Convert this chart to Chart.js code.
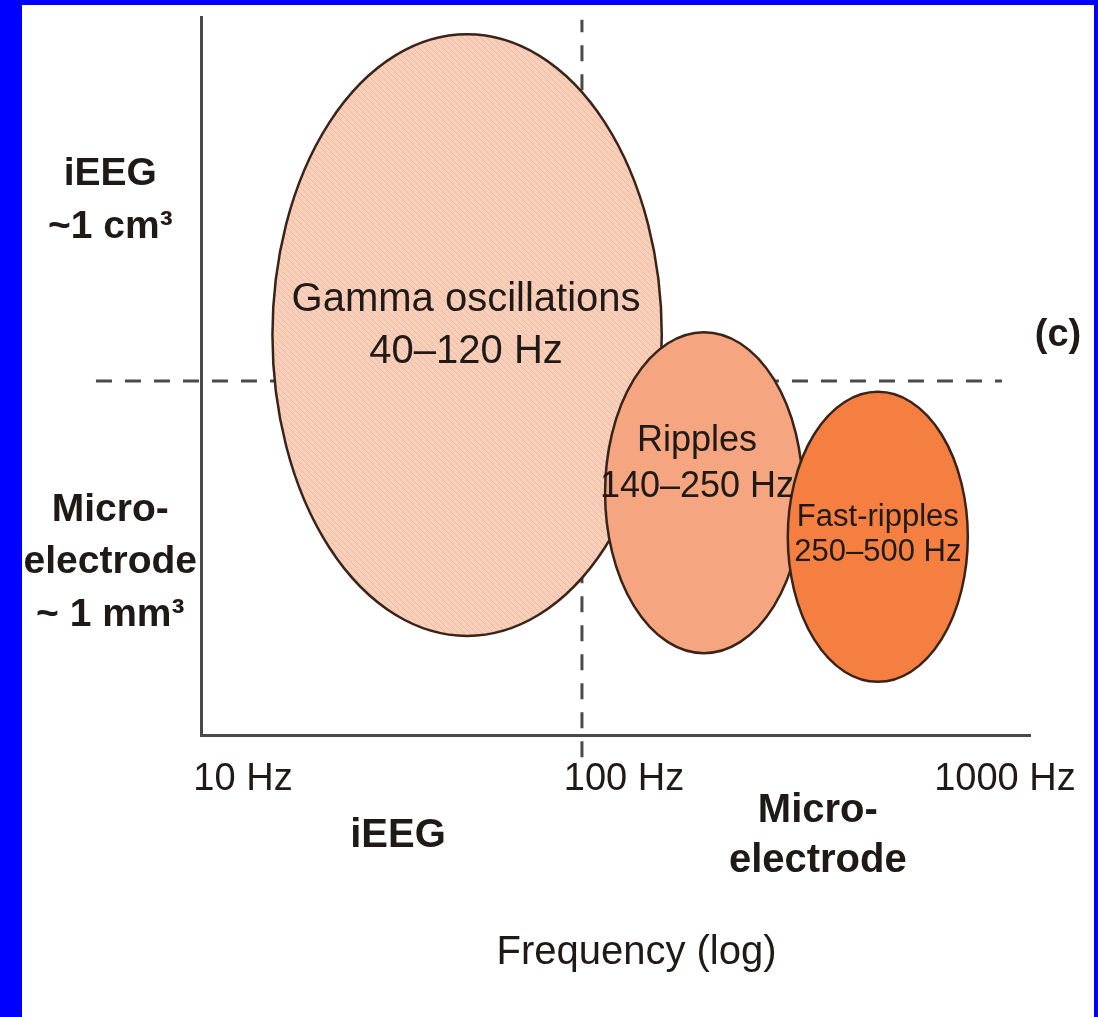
<!DOCTYPE html>
<html lang="en">
<head>
    <meta charset="UTF-8">
    <title>HFO bands</title>
    <style>
        body { margin: 0; background: #0000fe; width: 1098px; height: 1017px; overflow: hidden; }
        #wrap { position: absolute; left: 22px; top: 5px; width: 1072px; height: 1012px; background: #fff; }
    </style>
</head>
<body>
    <div id="wrap">
        <canvas id="myChart" width="1072" height="1012"></canvas>
    </div>

    <script src="https://cdn.jsdelivr.net/npm/chart.js"></script>

<script>
    // bands (frequency in Hz on a log axis, vertical extent on a 0-100 "spatial scale")
    const bandNames = ['Gamma oscillations', 'Ripples', 'Fast-ripples'];
    const bandRanges = ['40–120 Hz', '140–250 Hz', '250–500 Hz'];
    const bandFreqLow = [15.4, 115, 347];
    const bandFreqHigh = [162, 380, 1030];
    const bandScaleLow = [13.8, 11.4, 7.4];
    const bandScaleHigh = [97.6, 56.1, 47.8];

    const freqTicks = [10, 100, 1000];
    const spatialLevels = [74.4, 24];
    const spatialLabels = [['iEEG', '~1 cm³'], ['Micro-', 'electrode', '~ 1 mm³']];
    const freqGroupAt = [32.9, 416];
    const freqGroupLabels = [['iEEG'], ['Micro-', 'electrode']];

    const boundaryFreq = 100;
    const boundaryScale = 49.3;
    const hLineFreq = [5.3, 1266];
    const vLineScale = [-3.1, 99.6];

    // styles
    const bandFill = ['#f9cfb9', '#f5a57f', '#f47f40'];
    const bandFont = [40, 36, 31];
    const bandLineGap = [52, 46, 35];
    const bandTextShift = [[-1, -9], [-7, -29], [0, -2]];
    const ink = '#1f1a18';

    Chart.defaults.font.family = '"Liberation Sans", Arial, Helvetica, sans-serif';
    Chart.defaults.color = ink;

    const ctx = document.getElementById('myChart').getContext('2d');

    const bandsPlugin = {
        id: 'bands',
        afterDatasetsDraw(chart) {
            const c = chart.ctx;
            const x = chart.scales.x, y = chart.scales.y;
            c.save();

            // faint hatching used on the big ellipse
            const tile = document.createElement('canvas');
            tile.width = 6; tile.height = 6;
            const t = tile.getContext('2d');
            t.fillStyle = bandFill[0];
            t.fillRect(0, 0, 6, 6);
            t.strokeStyle = 'rgba(200,150,130,0.35)';
            t.lineWidth = 1;
            t.beginPath(); t.moveTo(0, 0); t.lineTo(6, 6); t.stroke();
            const hatch = c.createPattern(tile, 'repeat');

            for (let i = 0; i < bandNames.length; i++) {
                const x0 = x.getPixelForValue(bandFreqLow[i]);
                const x1 = x.getPixelForValue(bandFreqHigh[i]);
                const y0 = y.getPixelForValue(bandScaleHigh[i]);
                const y1 = y.getPixelForValue(bandScaleLow[i]);
                c.beginPath();
                c.ellipse((x0 + x1) / 2, (y0 + y1) / 2, (x1 - x0) / 2, (y1 - y0) / 2, 0, 0, Math.PI * 2);
                c.fillStyle = i === 0 ? hatch : bandFill[i];
                c.fill();
                c.lineWidth = 2.5;
                c.strokeStyle = '#3a2419';
                c.stroke();
            }

            c.fillStyle = ink;
            c.textAlign = 'center';
            c.textBaseline = 'middle';
            for (let i = 0; i < bandNames.length; i++) {
                const cx = (x.getPixelForValue(bandFreqLow[i]) + x.getPixelForValue(bandFreqHigh[i])) / 2;
                const cy = (y.getPixelForValue(bandScaleHigh[i]) + y.getPixelForValue(bandScaleLow[i])) / 2;
                c.font = bandFont[i] + 'px "Liberation Sans", Arial, sans-serif';
                const gap = bandLineGap[i];
                c.fillText(bandNames[i], cx + bandTextShift[i][0], cy + bandTextShift[i][1] - gap / 2);
                c.fillText(bandRanges[i], cx + bandTextShift[i][0], cy + bandTextShift[i][1] + gap / 2);
            }

            // recording type under the frequency axis
            c.font = 'bold 40px "Liberation Sans", Arial, sans-serif';
            const base = chart.chartArea.bottom + 101;
            freqGroupLabels.forEach((lines, i) => {
                const px = x.getPixelForValue(freqGroupAt[i]);
                lines.forEach((s, k) => {
                    c.fillText(s, px, base + (k - (lines.length - 1) / 2) * 50);
                });
            });

            c.font = '40px "Liberation Sans", Arial, sans-serif';
            c.fillText('Frequency (log)', (chart.chartArea.left + chart.chartArea.right) / 2 + 21, 948);

            c.font = 'bold 38px "Liberation Sans", Arial, sans-serif';
            c.fillText('(c)', 1036, 331);
            c.restore();
        }
    };

    const dashed = {
        showLine: true,
        borderColor: '#4a4a4a',
        borderWidth: 3,
        borderDash: [16, 13],
        pointRadius: 0,
        clip: false
    };

    const chart = new Chart(ctx, {
        type: 'scatter',
        data: {
            datasets: [
                Object.assign({ data: hLineFreq.map(f => ({ x: f, y: boundaryScale })) }, dashed),
                Object.assign({ data: vLineScale.map(s => ({ x: boundaryFreq, y: s })) }, dashed)
            ]
        },
        options: {
            responsive: false,
            animation: false,
            layout: { padding: { top: 12, right: 64, bottom: 0, left: 0 } },
            plugins: { legend: { display: false }, tooltip: { enabled: false } },
            scales: {
                x: {
                    type: 'logarithmic',
                    min: 10,
                    max: 1500,
                    grid: { display: false, drawTicks: false },
                    border: { display: true, color: '#4a4a4a', width: 3 },
                    afterBuildTicks: s => { s.ticks = freqTicks.map(v => ({ value: v })); },
                    afterFit: s => { s.height = 282; },
                    ticks: {
                        callback: v => v + ' Hz',
                        font: { size: 38 },
                        color: ink,
                        padding: 22,
                        labelOffset: 42,
                        maxRotation: 0,
                        autoSkip: false
                    }
                },
                y: {
                    min: 0,
                    max: 100,
                    grid: { display: false, drawTicks: false },
                    border: { display: true, color: '#4a4a4a', width: 3 },
                    afterBuildTicks: s => { s.ticks = spatialLevels.map(v => ({ value: v })); },
                    afterFit: s => {
                        s.width = 179;
                        s.paddingTop = 0;
                        s.paddingBottom = 0;
                    },
                    ticks: {
                        callback: (v, i) => spatialLabels[i],
                        font: { size: 39, weight: 'bold', lineHeight: 1.35 },
                        color: ink,
                        padding: 4,
                        crossAlign: 'center',
                        autoSkip: false
                    }
                }
            }
        },
        plugins: [bandsPlugin]
    });
</script>
</body>
</html>
